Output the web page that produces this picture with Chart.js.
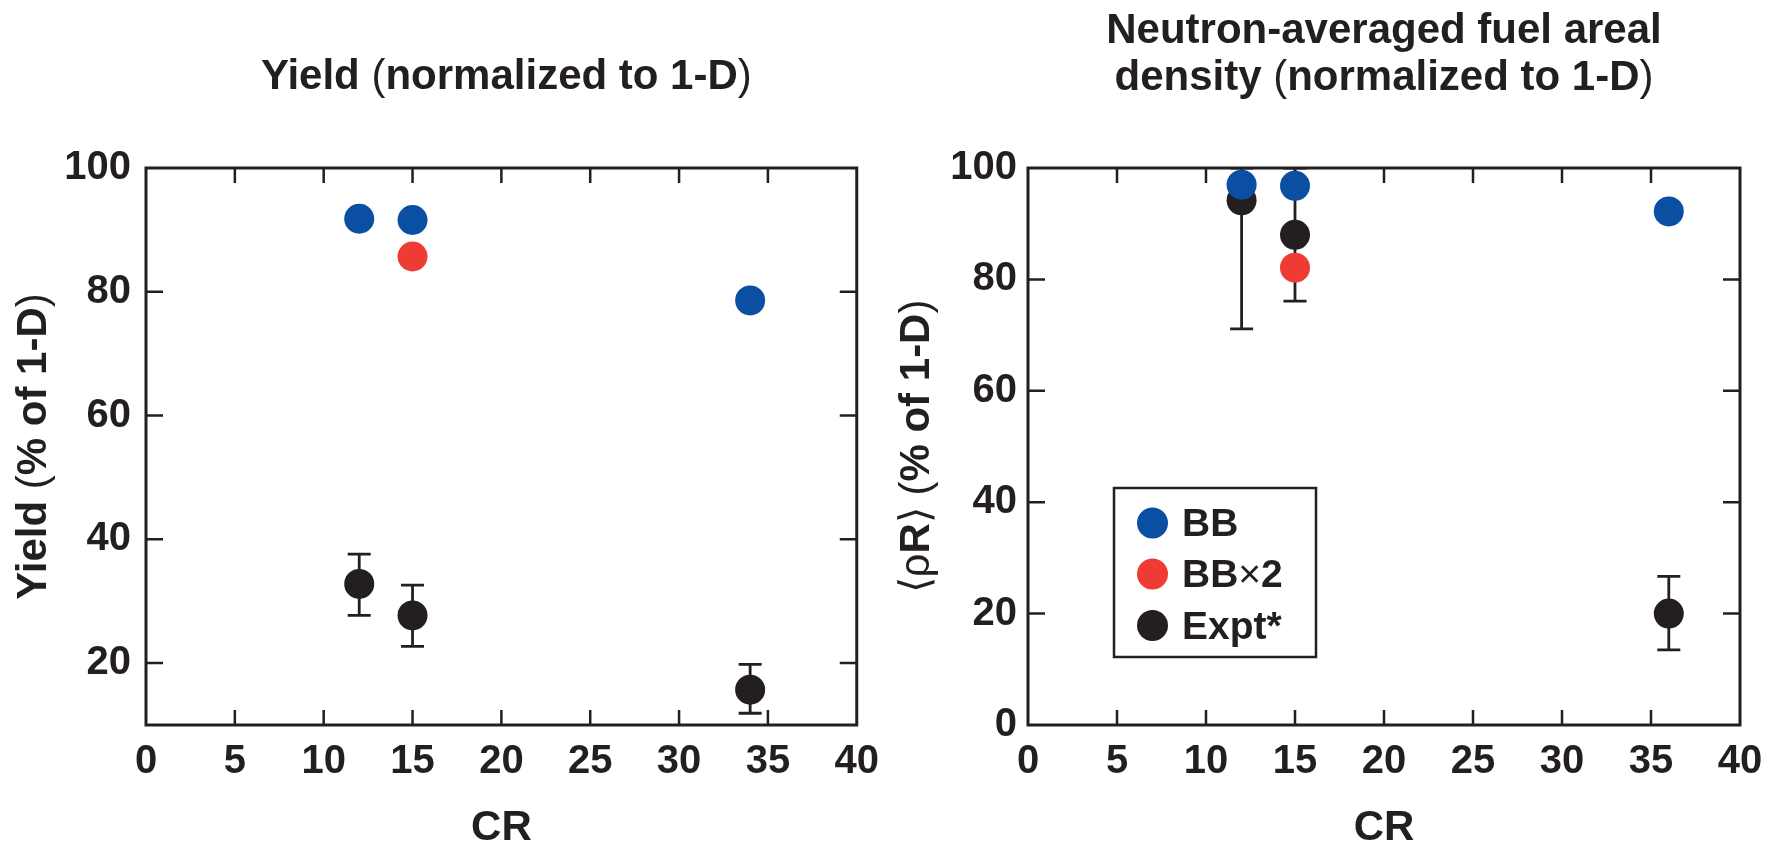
<!DOCTYPE html>
<html>
<head>
<meta charset="utf-8">
<script src="https://cdn.jsdelivr.net/npm/chart.js@4.4.0/dist/chart.umd.min.js"></script>
<style>
  html, body { margin: 0; padding: 0; background: #fff; }
  .wrap { position: relative; width: 1784px; height: 842px; }
  .panel { position: absolute; top: 0; width: 892px; height: 842px; }
</style>
</head>
<body>
<div class="wrap">
  <div class="panel" style="left:0"><canvas id="yieldChart" width="892" height="842"></canvas></div>
  <div class="panel" style="left:892px"><canvas id="rhoRChart" width="892" height="842"></canvas></div>
</div>
<script>
// series
const seriesLabels = ['BB', 'BB×2', 'Expt*'];
const seriesColors = ['#0b4fa3', '#ee3b33', '#231f20'];

// yield panel (% of 1-D)
const yieldBbCR = [12, 15, 34];
const yieldBb = [91.8, 91.6, 78.6];
const yieldBb2CR = [15];
const yieldBb2 = [85.7];
const yieldExpCR = [12, 15, 34];
const yieldExp = [32.8, 27.7, 15.7];
const yieldExpLo = [27.7, 22.7, 11.9];
const yieldExpHi = [37.6, 32.6, 19.8];

// areal density panel (% of 1-D)
const rhoBbCR = [12, 15, 36];
const rhoBb = [97.0, 96.8, 92.2];
const rhoBb2CR = [15];
const rhoBb2 = [82.1];
const rhoExpCR = [12, 15, 36];
const rhoExp = [94.2, 88.0, 20.0];
const rhoExpLo = [71.1, 76.1, 13.5];
const rhoExpHi = [100, 100, 26.7];

// tick labels
const xTicks = [0, 5, 10, 15, 20, 25, 30, 35, 40];
const yieldYTicks = [20, 40, 60, 80, 100];
const rhoYTicks = [0, 20, 40, 60, 80, 100];

const FONT = "'Liberation Sans', Arial, Helvetica, sans-serif";
const INK = '#231f20';
Chart.defaults.font.family = FONT;
Chart.defaults.color = INK;

// brackets and symbols are set in the light weight, like the original
const LIGHT_CHARS = '()⟨⟩×ρ';

function drawMixed(ctx, text, x, y, size, align) {
  const runs = [];
  for (const ch of text) {
    const light = LIGHT_CHARS.includes(ch);
    const last = runs[runs.length - 1];
    if (last && last.light === light) last.text += ch;
    else runs.push({ text: ch, light });
  }
  const fontFor = light => `${light ? 'normal' : 'bold'} ${size}px ${FONT}`;
  let total = 0;
  runs.forEach(r => { ctx.font = fontFor(r.light); r.w = ctx.measureText(r.text).width; total += r.w; });
  let cx = align === 'center' ? x - total / 2 : align === 'right' ? x - total : x;
  ctx.textAlign = 'left';
  ctx.textBaseline = 'alphabetic';
  runs.forEach(r => { ctx.font = fontFor(r.light); ctx.fillText(r.text, cx, y); cx += r.w; });
}

const figurePlugin = {
  id: 'figure',
  beforeDatasetsDraw(chart, args, o) {
    const { ctx, chartArea: a, scales: { x, y } } = chart;
    ctx.save();
    ctx.strokeStyle = INK;
    ctx.lineCap = 'butt';

    // inward ticks on all four sides
    ctx.lineWidth = 2.5;
    ctx.beginPath();
    x.ticks.forEach(t => {
      const px = x.getPixelForValue(t.value);
      if (px - a.left < 3 || a.right - px < 3) return;
      ctx.moveTo(px, a.bottom); ctx.lineTo(px, a.bottom - o.xTickLen);
      ctx.moveTo(px, a.top); ctx.lineTo(px, a.top + o.xTickLen);
    });
    y.ticks.forEach(t => {
      const py = y.getPixelForValue(t.value);
      if (py - a.top < 3 || a.bottom - py < 3) return;
      ctx.moveTo(a.left, py); ctx.lineTo(a.left + o.yTickLen, py);
      ctx.moveTo(a.right, py); ctx.lineTo(a.right - o.yTickLen, py);
    });
    ctx.stroke();

    // frame
    ctx.lineWidth = 3;
    ctx.strokeRect(a.left, a.top, a.right - a.left, a.bottom - a.top);

    // error bars of the experimental points
    ctx.beginPath();
    ctx.rect(a.left, a.top, a.right - a.left, a.bottom - a.top);
    ctx.clip();
    ctx.lineWidth = 2.8;
    ctx.beginPath();
    const meta = chart.getDatasetMeta(o.errorDataset);
    meta.data.forEach((pt, i) => {
      const lo = y.getPixelForValue(o.errLo[i]);
      const hi = y.getPixelForValue(o.errHi[i]);
      ctx.moveTo(pt.x, lo); ctx.lineTo(pt.x, hi);
      ctx.moveTo(pt.x - o.capHalf, lo); ctx.lineTo(pt.x + o.capHalf, lo);
      ctx.moveTo(pt.x - o.capHalf, hi); ctx.lineTo(pt.x + o.capHalf, hi);
    });
    ctx.stroke();
    ctx.restore();
  },
  afterDraw(chart, args, o) {
    const { ctx, chartArea: a } = chart;
    ctx.save();
    ctx.fillStyle = INK;
    const cx = (a.left + a.right) / 2;
    const cy = (a.top + a.bottom) / 2;

    // top title
    o.title.forEach((line, i) => drawMixed(ctx, line, cx + o.titleDx, o.titleBaselines[i], 42, 'center'));

    // x title
    drawMixed(ctx, 'CR', cx, o.xTitleBaseline, 42, 'center');

    // y title, reading upward, centred on the plot
    ctx.save();
    ctx.translate(o.yTitleX, cy);
    ctx.rotate(-Math.PI / 2);
    drawMixed(ctx, o.yTitle, 0, 0, 42, 'center');
    ctx.restore();

    // legend box inside the plot
    if (o.legend) {
      const L = o.legend;
      ctx.strokeStyle = INK;
      ctx.lineWidth = 2.5;
      ctx.strokeRect(L.x, L.y, L.w, L.h);
      chart.data.datasets.forEach((ds, i) => {
        const my = L.rowY[i];
        ctx.fillStyle = ds.backgroundColor;
        ctx.beginPath();
        ctx.arc(L.markerX, my, 15.5, 0, Math.PI * 2);
        ctx.fill();
        ctx.fillStyle = INK;
        drawMixed(ctx, ds.label, L.textX, my + 13, 39, 'left');
      });
    }
    ctx.restore();
  }
};

function pts(xs, ys) { return xs.map((x, i) => ({ x, y: ys[i] })); }

function makeDatasets(bbX, bb, bb2X, bb2, expX, exp) {
  return [
    { label: seriesLabels[0], data: pts(bbX, bb) },
    { label: seriesLabels[1], data: pts(bb2X, bb2) },
    { label: seriesLabels[2], data: pts(expX, exp) },
  ].map((d, i) => ({
    ...d,
    backgroundColor: seriesColors[i],
    borderColor: seriesColors[i],
    pointRadius: 15,
    pointHoverRadius: 15,
    borderWidth: 0,
  }));
}

function makeScales(yMin, yTicks, yAxisWidth, yLabelPad) {
  const tickFont = { size: 40, weight: 'bold' };
  return {
    x: {
      type: 'linear', min: 0, max: 40,
      afterBuildTicks: s => { s.ticks = xTicks.map(v => ({ value: v })); },
      afterFit: s => { s.height = 117; },
      grid: { display: false, drawTicks: false, tickLength: 0 },
      border: { display: false },
      ticks: { font: tickFont, color: INK, padding: 13, maxRotation: 0, autoSkip: false },
    },
    y: {
      type: 'linear', min: yMin, max: 100,
      afterBuildTicks: s => { s.ticks = yTicks.map(v => ({ value: v })); },
      afterFit: s => { s.width = yAxisWidth; },
      grid: { display: false, drawTicks: false, tickLength: 0 },
      border: { display: false },
      ticks: { font: tickFont, color: INK, padding: yLabelPad, autoSkip: false },
    },
  };
}

function makeChart(id, datasets, scales, padRight, figure) {
  return new Chart(document.getElementById(id), {
    type: 'scatter',
    data: { datasets },
    options: {
      responsive: false,
      animation: false,
      events: [],
      layout: { padding: { top: 168, right: padRight, bottom: 0, left: 0 } },
      scales,
      plugins: { legend: { display: false }, tooltip: { enabled: false }, figure },
    },
    plugins: [figurePlugin],
  });
}

makeChart('yieldChart',
  makeDatasets(yieldBbCR, yieldBb, yieldBb2CR, yieldBb2, yieldExpCR, yieldExp),
  makeScales(10, yieldYTicks, 146, 15),
  33,
  {
    xTickLen: 15, yTickLen: 17, capHalf: 11.5,
    errorDataset: 2, errLo: yieldExpLo, errHi: yieldExpHi,
    title: ['Yield (normalized to 1-D)'], titleBaselines: [89], titleDx: 5,
    xTitleBaseline: 840,
    yTitle: 'Yield (% of 1-D)', yTitleX: 46,
    legend: null,
  });

makeChart('rhoRChart',
  makeDatasets(rhoBbCR, rhoBb, rhoBb2CR, rhoBb2, rhoExpCR, rhoExp),
  makeScales(0, rhoYTicks, 136, 11),
  44,
  {
    xTickLen: 15, yTickLen: 17, capHalf: 11.5,
    errorDataset: 2, errLo: rhoExpLo, errHi: rhoExpHi,
    title: ['Neutron-averaged fuel areal', 'density (normalized to 1-D)'], titleBaselines: [43, 90], titleDx: 0,
    xTitleBaseline: 840,
    yTitle: '⟨ρR⟩ (% of 1-D)', yTitleX: 37,
    legend: { x: 222, y: 488, w: 202, h: 169, markerX: 260.5, textX: 290, rowY: [523, 574, 625.5] },
  });
</script>
</body>
</html>
